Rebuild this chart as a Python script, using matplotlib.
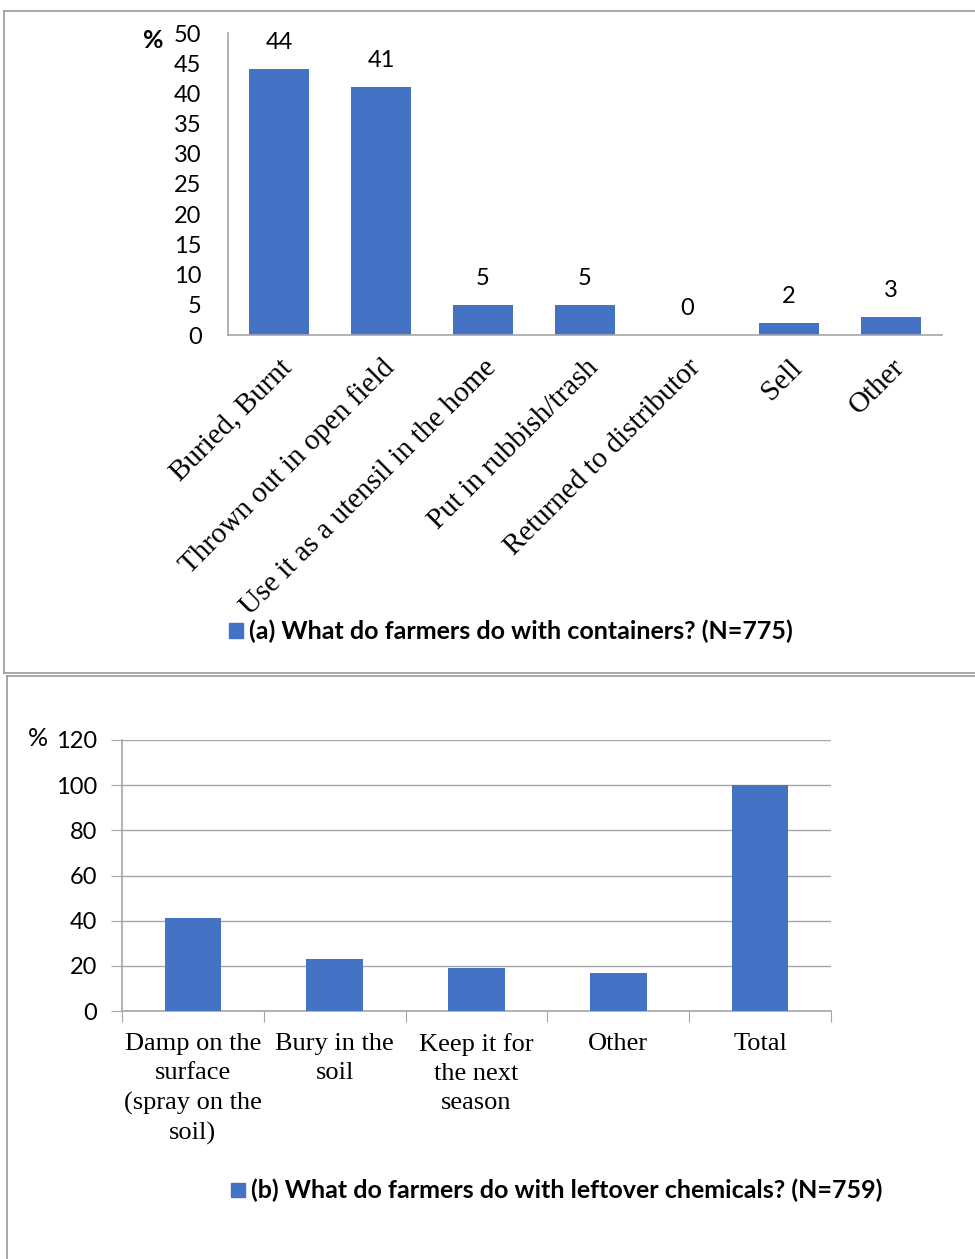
import matplotlib
matplotlib.use("Agg")
import matplotlib.pyplot as plt
import numpy as np
from matplotlib.lines import Line2D
from matplotlib.patches import Rectangle

# ---- data ----
cats_a = ["Buried, Burnt", "Thrown out in open field", "Use it as a utensil in the home",
          "Put in rubbish/trash", "Returned to distributor", "Sell", "Other"]
vals_a = [44, 41, 5, 5, 0, 2, 3]
yticks_a = [0, 5, 10, 15, 20, 25, 30, 35, 40, 45, 50]
legend_a = "(a) What do farmers do with containers? (N=775)"

cats_b = ["Damp on the\nsurface\n(spray on the\nsoil)", "Bury in the\nsoil",
          "Keep it for\nthe next\nseason", "Other", "Total"]
vals_b = [41, 23, 19, 17, 100]
yticks_b = [0, 20, 40, 60, 80, 100, 120]
legend_b = "(b) What do farmers do with leftover chemicals? (N=759)"

BLUE = "#4472C4"
GRAY = "#A6A6A6"
SANS = ["Lato", "DejaVu Sans"]
SERIF = ["Liberation Serif", "DejaVu Serif"]

W, H = 975, 1259
fig = plt.figure(figsize=(W / 100, H / 100), dpi=100)

def fx(x):
    return x / W

def fy(y):
    return 1 - y / H

# panel borders
for (x0, y0, x1, y1) in [(4, 11, 975, 11), (4, 11, 4, 673), (4, 673, 975, 673),
                         (7, 676, 975, 676), (7, 676, 7, 1259)]:
    fig.add_artist(Line2D([fx(x0), fx(x1)], [fy(y0), fy(y1)], color="#9a9a9a", lw=1.2))

# ---- top panel ----
ax1 = fig.add_axes([fx(228), fy(335), fx(942) - fx(228), fy(33) - fy(335)])
xa = np.arange(len(cats_a))
ax1.bar(xa, vals_a, width=0.58, color=BLUE)
ax1.set_xlim(-0.5, len(cats_a) - 0.5)
ax1.set_ylim(0, 50)
ax1.set_yticks(yticks_a)
ax1.set_yticklabels([str(v) for v in yticks_a], family=SANS, fontsize=17)
ax1.tick_params(axis="y", length=0, pad=19)
ax1.set_xticks(xa)
ax1.set_xticklabels(cats_a, family=SERIF, fontsize=21, rotation=45, ha="right",
                    va="top", rotation_mode="anchor")
ax1.tick_params(axis="x", length=0, pad=14)
for s in ["top", "right"]:
    ax1.spines[s].set_visible(False)
for s in ["left", "bottom"]:
    ax1.spines[s].set_color(GRAY)
    ax1.spines[s].set_linewidth(1.2)
for x, v in zip(xa, vals_a):
    ax1.annotate(str(v), (x, v), xytext=(0, 19), textcoords="offset points",
                 ha="center", va="center", family=SANS, fontsize=17)
fig.text(fx(153), fy(40), "%", family=SANS, fontsize=18, fontweight="bold",
         ha="center", va="center")
fig.add_artist(Rectangle((fx(229), fy(638)), fx(243) - fx(229), fy(623) - fy(638),
                         color=BLUE, transform=fig.transFigure))
fig.text(fx(249), fy(631), legend_a, family=SANS, fontsize=18, fontweight="bold",
         ha="left", va="center")

# ---- bottom panel ----
ax2 = fig.add_axes([fx(122), fy(1011), fx(831) - fx(122), fy(740) - fy(1011)])
xb = np.arange(len(cats_b))
ax2.bar(xb, vals_b, width=0.40, color=BLUE, zorder=3)
ax2.set_xlim(-0.5, len(cats_b) - 0.5)
ax2.set_ylim(0, 120)
ax2.set_yticks(yticks_b)
ax2.set_yticklabels([str(v) for v in yticks_b], family=SANS, fontsize=17)
ax2.tick_params(axis="y", length=8, color=GRAY, pad=10)
ax2.grid(axis="y", color=GRAY, lw=1.0, zorder=0)
ax2.set_xticks(np.arange(-0.5, len(cats_b)), minor=False)
ax2.set_xticklabels([""] * (len(cats_b) + 1))
ax2.tick_params(axis="x", length=8, color=GRAY)
ax2.set_xticks(xb, minor=True)
ax2.set_xticklabels(cats_b, minor=True, family=SERIF, fontsize=19, linespacing=1.42,
                    ha="center", va="top")
ax2.tick_params(axis="x", which="minor", length=0, pad=16)
for s in ["top", "right"]:
    ax2.spines[s].set_visible(False)
for s in ["left", "bottom"]:
    ax2.spines[s].set_color(GRAY)
    ax2.spines[s].set_linewidth(1.2)
fig.text(fx(38), fy(738), "%", family=SANS, fontsize=18, ha="center", va="center")
fig.add_artist(Rectangle((fx(231), fy(1197)), fx(245) - fx(231), fy(1183) - fy(1197),
                         color=BLUE, transform=fig.transFigure))
fig.text(fx(251), fy(1190), legend_b, family=SANS, fontsize=18, fontweight="bold",
         ha="left", va="center")

fig.savefig("out.png", dpi=100)
